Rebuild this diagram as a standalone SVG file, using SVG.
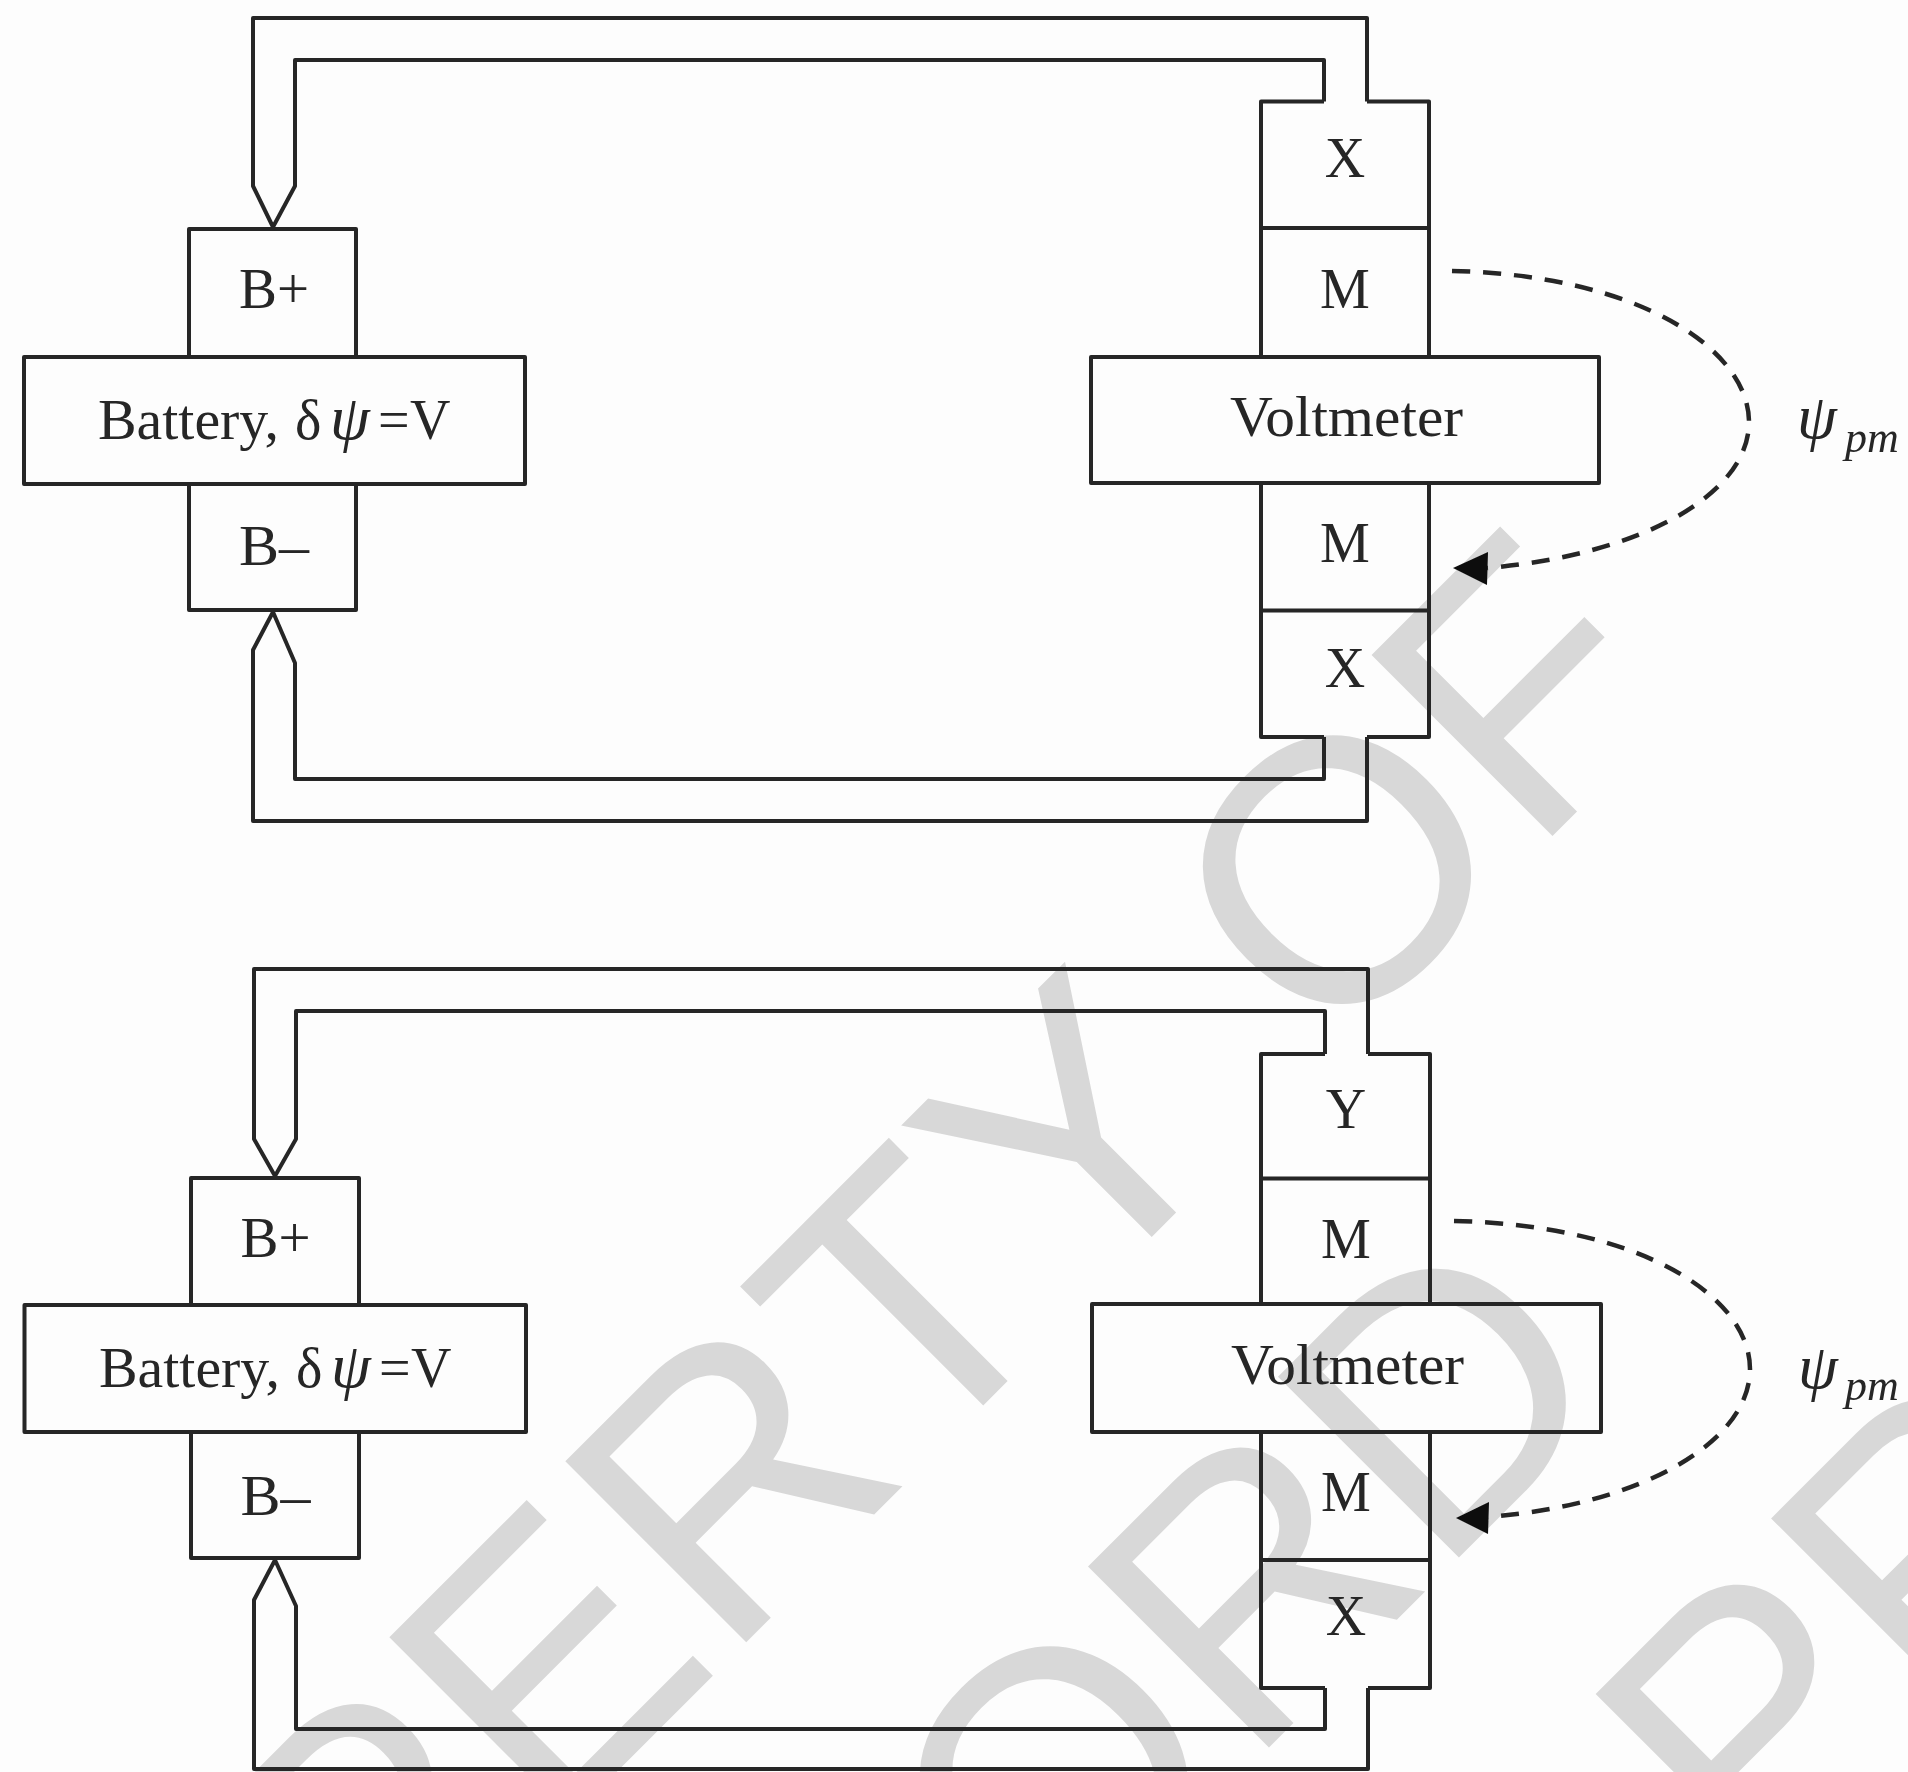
<svg xmlns="http://www.w3.org/2000/svg" width="1908" height="1772" viewBox="0 0 1908 1772">
<style>
.ln{fill:none;stroke:#262626;stroke-width:4;stroke-linejoin:round}
.dash{fill:none;stroke:#262626;stroke-width:4.500;stroke-dasharray:18 13}
.t{font-family:"Liberation Serif","Times New Roman",serif;font-size:56px;fill:#262626}
.m{text-anchor:middle}
.i{font-style:italic}
.psi{font-size:64px}
.sub{font-size:44px}
.wm{font-family:"Liberation Sans",Arial,sans-serif;font-size:372px;fill:#d8d8d8;font-kerning:none}
</style>
<defs><filter id="soft" filterUnits="userSpaceOnUse" x="0" y="0" width="1908" height="1772"><feGaussianBlur stdDeviation="0.600"/></filter></defs>
<rect width="1908" height="1772" fill="#fdfdfd"/>
<g id="watermark" transform="rotate(-45)">
<text class="wm" x="-1970" y="1689" letter-spacing="0.700">PROPERTY OF</text>
<text class="wm" x="-1423" y="2133">OXFORD</text>
<text class="wm" x="-100" y="2582">PR</text>
</g>
<g filter="url(#soft)">
<g id="connectors">
<path class="ln" d="M1367 101.500V18H253V186L273 227L295 186V60H1324V101.500"/>
<path class="ln" d="M1367 737V821H253V650L273 612L295 663V779H1324V737"/>
<path class="ln" d="M1368 1054V969H254V1139L275 1176L296 1139V1011H1325V1054"/>
<path class="ln" d="M1368 1688V1769H254V1600L275 1560L296 1606V1729H1325V1688"/>
<path class="dash" d="M1452 271C1640 275 1749 350 1749 422C1749 495 1640 555 1487 568"/>
<polygon points="1453,568 1488,552 1487,585" fill="#111"/>
<path class="dash" d="M1454 1221C1642 1225 1750 1297 1750 1369C1750 1442 1642 1505 1487 1517"/>
<polygon points="1456,1518 1489,1502 1488,1534" fill="#111"/>
</g>
<g id="battery-top">
<path class="ln" d="M189 357V229H356V357M189 484V610H356V484"/>
<rect class="ln" x="24" y="357" width="501" height="127"/>
<text class="t m" x="274" y="308" textLength="70" lengthAdjust="spacingAndGlyphs">B+</text>
<text class="t m" x="274" y="565" textLength="70" lengthAdjust="spacingAndGlyphs">B–</text>
<text class="t" x="98" y="439"><tspan textLength="181" lengthAdjust="spacingAndGlyphs">Battery,</tspan><tspan x="295">δ</tspan><tspan class="i psi" x="330">ψ</tspan><tspan x="378">=</tspan><tspan x="410">V</tspan></text>
</g>
<g id="voltmeter-top">
<path class="ln" d="M1261 357V101.500H1324M1367 101.500H1429V357M1261 228H1429M1261 484V737H1324M1367 737H1429V484M1261 610.500H1429"/>
<rect class="ln" x="1091" y="357" width="508" height="126"/>
<text class="t m" x="1345" y="177">X</text>
<text class="t m" x="1345" y="308">M</text>
<text class="t" x="1230" y="436" textLength="233" lengthAdjust="spacingAndGlyphs">Voltmeter</text>
<text class="t m" x="1345" y="562">M</text>
<text class="t m" x="1345" y="687">X</text>
<text class="t i psi" x="1797" y="438">ψ</text>
<text class="t i sub" x="1845" y="452">pm</text>
</g>
<g id="battery-bottom">
<path class="ln" d="M191 1305V1178H359V1305M191 1432V1558H359V1432"/>
<rect class="ln" x="24.500" y="1305" width="501.500" height="127"/>
<text class="t m" x="275.500" y="1257" textLength="70" lengthAdjust="spacingAndGlyphs">B+</text>
<text class="t m" x="275.500" y="1515" textLength="70" lengthAdjust="spacingAndGlyphs">B–</text>
<text class="t" x="99" y="1387"><tspan textLength="181" lengthAdjust="spacingAndGlyphs">Battery,</tspan><tspan x="296">δ</tspan><tspan class="i psi" x="331">ψ</tspan><tspan x="379">=</tspan><tspan x="411">V</tspan></text>
</g>
<g id="voltmeter-bottom">
<path class="ln" d="M1261 1304V1054H1325M1368 1054H1430V1304M1261 1178.500H1430M1261 1432V1688H1325M1368 1688H1430V1432M1261 1560H1430"/>
<rect class="ln" x="1092" y="1304" width="509" height="128"/>
<text class="t m" x="1346" y="1128">Y</text>
<text class="t m" x="1346" y="1258">M</text>
<text class="t" x="1231" y="1384" textLength="233" lengthAdjust="spacingAndGlyphs">Voltmeter</text>
<text class="t m" x="1346" y="1511">M</text>
<text class="t m" x="1346" y="1635">X</text>
<text class="t i psi" x="1798" y="1388">ψ</text>
<text class="t i sub" x="1845" y="1400">pm</text>
</g>
</g>
</svg>
